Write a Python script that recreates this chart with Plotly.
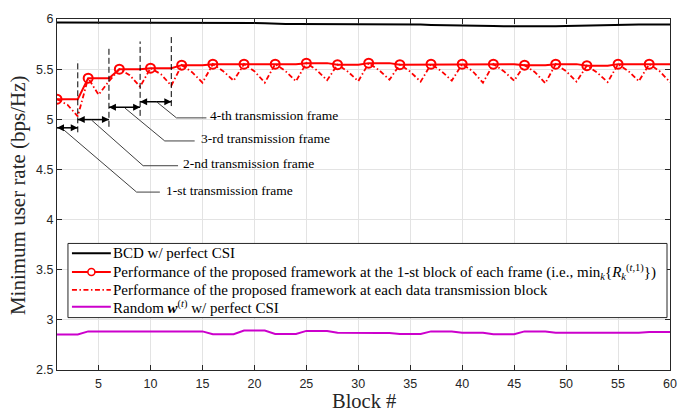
import plotly.graph_objects as go

# ---------------- data ----------------
blocks = list(range(1, 61))

bcd_rate = [5.965, 5.965, 5.965, 5.965, 5.965, 5.965, 5.965, 5.965, 5.965, 5.964,
            5.963, 5.962, 5.962, 5.962, 5.962, 5.962, 5.962, 5.962, 5.962, 5.961,
            5.957, 5.952, 5.950, 5.950, 5.950, 5.950, 5.950, 5.950, 5.950, 5.950,
            5.950, 5.950, 5.950, 5.950, 5.949, 5.945, 5.941, 5.938, 5.936, 5.934,
            5.932, 5.930, 5.929, 5.928, 5.927, 5.927, 5.927, 5.927, 5.928, 5.930,
            5.933, 5.935, 5.938, 5.940, 5.942, 5.943, 5.944, 5.945, 5.945, 5.945]

first_block_rate = [5.20, 5.20, 5.20, 5.41, 5.41, 5.41, 5.50, 5.50, 5.50, 5.51,
                    5.51, 5.51, 5.54, 5.54, 5.54, 5.55, 5.55, 5.55, 5.55, 5.55,
                    5.55, 5.55, 5.55, 5.55, 5.56, 5.56, 5.56, 5.545, 5.545, 5.545,
                    5.56, 5.56, 5.56, 5.545, 5.545, 5.545, 5.55, 5.55, 5.55, 5.55,
                    5.55, 5.55, 5.55, 5.55, 5.55, 5.54, 5.54, 5.54, 5.55, 5.55,
                    5.55, 5.535, 5.535, 5.535, 5.55, 5.55, 5.55, 5.55, 5.55, 5.55]

frame_start_block = [1, 4, 7, 10, 13, 16, 19, 22, 25, 28,
                     31, 34, 37, 40, 43, 46, 49, 52, 55, 58]
frame_start_rate = [5.20, 5.41, 5.50, 5.51, 5.54, 5.55, 5.55, 5.55, 5.56, 5.545,
                    5.56, 5.545, 5.55, 5.55, 5.55, 5.54, 5.55, 5.535, 5.55, 5.55]

each_block_rate = [5.20, 5.145, 5.03, 5.41, 5.245, 5.38, 5.50, 5.44, 5.325, 5.51,
                   5.45, 5.335, 5.54, 5.47, 5.365, 5.55, 5.48, 5.385, 5.55, 5.48,
                   5.365, 5.55, 5.48, 5.38, 5.56, 5.49, 5.39, 5.545, 5.475, 5.38,
                   5.56, 5.49, 5.395, 5.545, 5.475, 5.375, 5.55, 5.48, 5.385, 5.55,
                   5.48, 5.365, 5.55, 5.48, 5.385, 5.54, 5.47, 5.36, 5.55, 5.48,
                   5.375, 5.535, 5.465, 5.37, 5.55, 5.48, 5.38, 5.55, 5.48, 5.37]

random_rate = [2.855, 2.855, 2.855, 2.885, 2.885, 2.885, 2.885, 2.885, 2.885, 2.885,
               2.885, 2.885, 2.885, 2.885, 2.885, 2.857, 2.857, 2.857, 2.893, 2.893,
               2.893, 2.860, 2.860, 2.860, 2.890, 2.890, 2.890, 2.872, 2.870, 2.870,
               2.870, 2.870, 2.870, 2.860, 2.860, 2.860, 2.885, 2.885, 2.885, 2.872,
               2.872, 2.872, 2.857, 2.857, 2.857, 2.885, 2.885, 2.885, 2.872, 2.872,
               2.872, 2.872, 2.872, 2.872, 2.872, 2.872, 2.872, 2.880, 2.880, 2.880]

x_ticks = [5, 10, 15, 20, 25, 30, 35, 40, 45, 50, 55, 60]
y_ticks = [2.5, 3, 3.5, 4, 4.5, 5, 5.5, 6]
y_tick_labels = ["2.5", "3", "3.5", "4", "4.5", "5", "5.5", "6"]

series_names = [
    "BCD w/ perfect CSI",
    "Performance of the proposed framework at the 1-st block of each frame "
    "(i.e., min<sub><i>k</i></sub>{<i>R</i><sub><i>k</i></sub><sup>(<i>t</i>,1)</sup>})",
    "Performance of the proposed framework at each data transmission block",
    "Random <b><i>w</i></b><sup>(<i>t</i>)</sup> w/ perfect CSI",
]

# frame annotation geometry (block index, rate)
frame_labels = ["1-st transmission frame", "2-nd transmission frame",
                "3-rd transmission frame", "4-th transmission frame"]
frame_bounds = [(1, 3), (3, 6), (6, 9), (9, 12)]
arrow_levels = [4.915, 4.997, 5.119, 5.175]
divider_blocks = [3, 6, 9, 12]
divider_spans = [(4.87, 5.589), (4.925, 5.704), (5.034, 5.776), (5.132, 5.835)]
leader_paths = [[(1.61, 4.898), (8.66, 4.274), (10.9, 4.274)],
                [(4.34, 4.991), (9.29, 4.537), (12.65, 4.537)],
                [(7.54, 5.112), (11.37, 4.784), (14.25, 4.784)],
                [(10.58, 5.175), (12.5, 5.014), (15.38, 5.014)]]
label_x = [11.3, 12.9, 14.7, 15.5]

# ---------------- style / layout constants ----------------
SERIF = "Liberation Serif"
SANS = "Liberation Sans"
AXC = "#262626"
RED = "#ff0000"
MAG = "#cc00cc"
W, H = 689, 411
ML, MR, MT, MB = 57, 17, 15, 41
PW, PH = W - ML - MR, H - MT - MB


def px2paper_x(px):
    return (px - ML) / PW


def px2paper_y(py):
    return (H - MB - py) / PH


fig = go.Figure()

fig.add_trace(go.Scatter(x=blocks, y=bcd_rate, mode="lines",
                         line=dict(color="black", width=2),
                         name=series_names[0], showlegend=False))
fig.add_trace(go.Scatter(x=blocks, y=first_block_rate, mode="lines",
                         line=dict(color=RED, width=2), name=series_names[1],
                         showlegend=False))
fig.add_trace(go.Scatter(x=frame_start_block, y=frame_start_rate, mode="markers",
                         marker=dict(symbol="circle-open", size=9, color=RED,
                                     line=dict(width=2, color=RED)),
                         name=series_names[1], showlegend=False))
fig.add_trace(go.Scatter(x=blocks, y=each_block_rate, mode="lines",
                         line=dict(color=RED, width=1.8, dash="5px,2.5px,1.5px,2.5px"),
                         name=series_names[2], showlegend=False))
fig.add_trace(go.Scatter(x=blocks, y=random_rate, mode="lines",
                         line=dict(color=MAG, width=2),
                         name=series_names[3], showlegend=False))

# double arrows marking the frames
for (x0, x1), yl in zip(frame_bounds, arrow_levels):
    fig.add_trace(go.Scatter(x=[x0, x1], y=[yl, yl], mode="lines+markers",
                             line=dict(color="black", width=1.5),
                             marker=dict(symbol=["arrow-left", "arrow-right"], size=7,
                                         color="black"),
                             showlegend=False, hoverinfo="skip"))

shapes = []
annotations = []
for b, (y0, y1) in zip(divider_blocks, divider_spans):
    shapes.append(dict(type="line", xref="x", yref="y", x0=b, x1=b, y0=y0, y1=y1,
                       line=dict(color="black", width=1, dash="6px,3px")))
for path in leader_paths:
    d = "M " + " L ".join(f"{px},{py}" for px, py in path)
    shapes.append(dict(type="path", xref="x", yref="y", path=d,
                       line=dict(color="#404040", width=1)))
for txt, lx, path in zip(frame_labels, label_x, leader_paths):
    annotations.append(dict(x=lx, y=path[-1][1], xref="x", yref="y", text=txt,
                            showarrow=False, xanchor="left", yanchor="middle",
                            yshift=2, font=dict(family=SERIF, size=13.5, color="black")))

# ---------------- legend box (drawn in paper space) ----------------
box_px = (68, 242, 669, 317)
row_px = [252, 271, 289, 306]
sample_px = (72, 111)
text_px = 111
shapes.append(dict(type="rect", xref="paper", yref="paper",
                   x0=px2paper_x(box_px[0]), x1=px2paper_x(box_px[2]),
                   y0=px2paper_y(box_px[3]), y1=px2paper_y(box_px[1]),
                   fillcolor="white", line=dict(color=AXC, width=1)))
sample_styles = [dict(color="black", width=2), dict(color=RED, width=2),
                 dict(color=RED, width=1.8, dash="5px,2.5px,1.5px,2.5px"),
                 dict(color=MAG, width=2)]
for ry, st in zip(row_px, sample_styles):
    yy = px2paper_y(ry)
    shapes.append(dict(type="line", xref="paper", yref="paper",
                       x0=px2paper_x(sample_px[0]), x1=px2paper_x(sample_px[1]),
                       y0=yy, y1=yy, line=st))
mx = px2paper_x((sample_px[0] + sample_px[1]) / 2)
my = px2paper_y(row_px[1])
shapes.append(dict(type="circle", xref="paper", yref="paper",
                   xsizemode="pixel", ysizemode="pixel", xanchor=mx, yanchor=my,
                   x0=-3.5, x1=3.5, y0=-3.5, y1=3.5, fillcolor="white",
                   line=dict(color=RED, width=1.5)))
for ry, name in zip(row_px, series_names):
    annotations.append(dict(x=px2paper_x(text_px), y=px2paper_y(ry), xref="paper",
                            yref="paper", text=name, showarrow=False,
                            xanchor="left", yanchor="middle",
                            font=dict(family=SERIF, size=15, color="black")))

# axis titles
annotations.append(dict(x=0.5, y=px2paper_y(401), xref="paper", yref="paper",
                        text="Block #", showarrow=False, xanchor="center",
                        yanchor="middle", font=dict(family=SERIF, size=20.5, color=AXC)))
annotations.append(dict(x=px2paper_x(18), y=px2paper_y(193), xref="paper", yref="paper",
                        text="Minimum user rate (bps/Hz)", showarrow=False,
                        textangle=-90, xanchor="center", yanchor="middle",
                        font=dict(family=SERIF, size=21, color=AXC)))

fig.update_layout(
    width=W, height=H,
    margin=dict(l=ML, r=MR, t=MT, b=MB),
    paper_bgcolor="white", plot_bgcolor="white",
    shapes=shapes, annotations=annotations, showlegend=False,
    xaxis=dict(range=[1, 60], tickvals=x_ticks, ticks="inside", ticklen=5,
               tickcolor=AXC, showline=True, linecolor=AXC, linewidth=1,
               mirror="ticks", showgrid=True, gridcolor="#e3e3e3", zeroline=False,
               ticklabelstandoff=2,
               tickfont=dict(family=SANS, size=12.5, color=AXC)),
    yaxis=dict(range=[2.5, 6], tickvals=y_ticks, ticktext=y_tick_labels,
               ticks="inside", ticklen=5, tickcolor=AXC, showline=True,
               linecolor=AXC, linewidth=1, mirror="ticks", showgrid=True,
               gridcolor="#e3e3e3", zeroline=False,
               tickfont=dict(family=SANS, size=12.5, color=AXC)),
)

fig.write_html("out.html")
